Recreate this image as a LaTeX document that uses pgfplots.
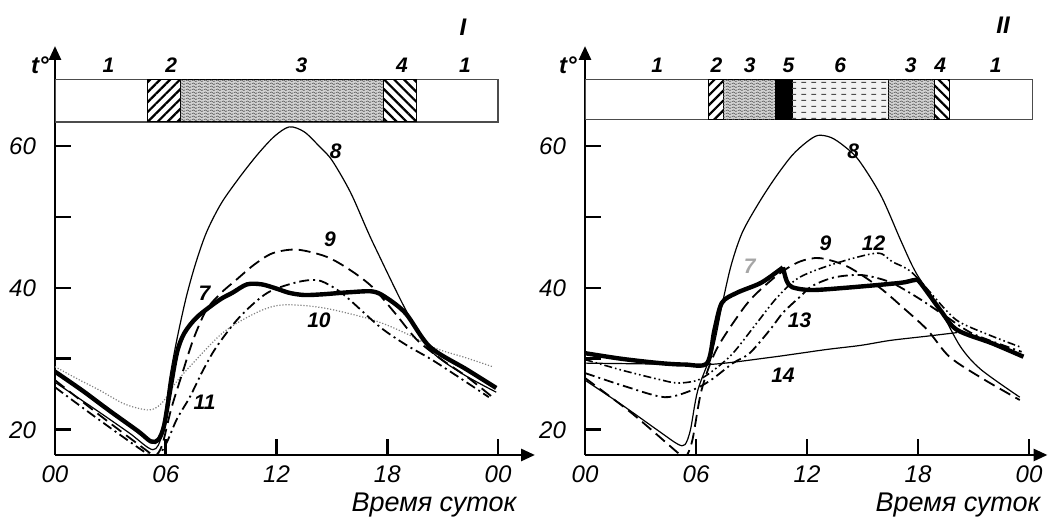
\documentclass[border=0pt]{standalone}
\usepackage{fontspec}
\setmainfont{Liberation Sans}
\usepackage{pgfplots}
\pgfplotsset{compat=1.18}
\usetikzlibrary{arrows.meta,patterns,patterns.meta}

\tikzdeclarepattern{
  name=waves, type=uncolored,
  bounding box={(0,0) and (3pt,1.6pt)},
  tile size={(3pt,1.6pt)},
  code={\draw[line width=0.35pt] (0,0.8pt) sin (0.75pt,1.3pt) cos (1.5pt,0.8pt) sin (2.25pt,0.3pt) cos (3pt,0.8pt);}
}
\tikzdeclarepattern{
  name=dashrows, type=uncolored,
  bounding box={(0,0) and (5pt,3pt)},
  tile size={(5pt,3pt)},
  code={\draw[line width=0.6pt] (0.8pt,1.5pt) -- (3.4pt,1.5pt);}
}

\tikzset{lab/.style={font=\fontsize{10.5}{12}\selectfont\bfseries\itshape}}

\pgfplotsset{
  panel/.style={
    scale only axis, height=204.5pt,
    axis lines=left,
    axis line style={line width=1.4pt, -{Triangle[width=6pt,length=7pt]}},
    ymin=16.45, ymax=74.1,
    xtick={0,6,12,18,24}, xticklabels={00,06,12,18,00},
    ytick={20,30,40,50,60}, yticklabels={20,,40,,60},
    tick align=inside, major tick length=8pt,
    tick style={line width=1.4pt, black},
    ticklabel style={font=\fontsize{12}{14}\selectfont\itshape},
    xticklabel style={yshift=-2pt},
    yticklabel style={xshift=-6pt},
  },
  c7/.style={line width=2.2pt, black, smooth},
  c8/.style={line width=0.6pt, black, smooth},
  c9/.style={line width=0.9pt, black, smooth, dash pattern=on 6pt off 3pt},
  c10/.style={line width=0.6pt, gray, smooth, dash pattern=on 0.6pt off 0.9pt},
  cdd/.style={line width=0.9pt, black, smooth, dash pattern=on 5pt off 2pt on 1pt off 2pt},
  cddd/.style={line width=0.8pt, black, smooth, dash pattern=on 4pt off 1.5pt on 0.8pt off 1.5pt on 0.8pt off 1.5pt},
  hatchA/.style={draw=black, line width=0.5pt, pattern={Lines[angle=45,distance=3.5pt,line width=1.1pt]}},
  hatchB/.style={draw=black, line width=0.5pt, pattern={Lines[angle=-45,distance=3.5pt,line width=1.1pt]}},
  wavefill/.style={draw=black, line width=0.5pt, fill=gray!35},
  wavepat/.style={draw=none, pattern=waves, pattern color=gray!70!black},
}

% one segment of the schedule band: from, to, bottom, top, style
\newcommand{\seg}[5]{\addplot[#5] coordinates {(#1,#3) (#2,#3) (#2,#4) (#1,#4) (#1,#3)};}

\begin{document}
\begin{tikzpicture}
\path[use as bounding box] (0,0) rectangle (524.5pt,258.5pt);

% ---------- panel I ----------
\begin{axis}[panel, at={(27.5pt,31pt)}, anchor=south west,
  width=240pt, xmin=0, xmax=26]
\seg{0}{24}{63.4}{69.4}{draw=gray!60!black, line width=0.7pt, fill=white}
\seg{5.0}{6.8}{63.4}{69.4}{hatchA}
\seg{6.8}{17.8}{63.4}{69.4}{wavefill}
\seg{6.8}{17.8}{63.4}{69.4}{wavepat}
\seg{17.8}{19.6}{63.4}{69.4}{hatchB}

\addplot[c10] coordinates {(0,28.9) (1.2,27.2) (2.4,25.6) (3.8,23.6) (5.1,22.8) (5.8,23.8) (6.5,26.5) (7.3,28.9) (9.1,33.7) (10.9,36.5) (12.3,37.6) (14.5,37.2) (17.2,35.5) (19,33.6) (20.6,31.5) (22.2,30.2) (23.7,28.9)};
\addplot[cdd] coordinates {(0,26.0) (2.5,21.2) (5.0,16.6) (5.5,16.0) (6.05,18.2) (6.6,21.5) (7.3,24.6) (8.0,28.3) (8.75,31.7) (10.0,35.9) (11.5,39.3) (13.1,40.8) (14.2,41.1) (15.0,40.2) (15.8,38.7) (17.6,34.5) (19,32) (20.4,29.9) (22,27.2) (23.5,24.6)};
\addplot[c9] coordinates {(0,27.0) (2.5,21.9) (5.0,17.0) (5.4,16.3) (5.8,17.8) (6.3,23) (6.9,28.0) (7.5,32.8) (8.2,36.9) (9.0,39.3) (9.8,41.1) (10.8,43.3) (11.8,44.9) (13.1,45.4) (14.7,44.4) (16,42.5) (17.2,40.1) (18.4,36.5) (19.6,32.7) (21,29.8) (22.3,27.5) (23.7,24.6)};
\addplot[c8] coordinates {(0,26.7) (2,23.2) (4,19.6) (5.3,17.2) (5.8,19.5) (6.2,27.0) (6.6,32.7) (7.1,38.6) (7.6,43.3) (8.2,47.8) (9.0,51.9) (10.0,55.6) (11.0,58.9) (11.9,61.4) (12.7,62.7) (13.5,62.0) (14.3,60.0) (15.0,58.0) (16.0,53.5) (16.9,48.2) (17.4,45.4) (19.0,36.9) (20.3,31.3) (22,28) (23.9,25.3)};
\addplot[c7] coordinates {(0,28.2) (1.5,25.5) (3,22.6) (4.5,19.8) (5.2,18.35) (5.6,18.6) (5.9,20.5) (6.2,25) (6.6,30.8) (7.0,33.6) (7.7,35.9) (8.9,38.3) (9.6,39.3) (10.4,40.5) (11.2,40.5) (12.0,39.9) (12.7,39.3) (13.5,39.0) (14.5,39.1) (16,39.4) (17.2,39.5) (17.9,38.7) (19,36.4) (20.3,31.7) (22.3,28.5) (23.9,25.9)};

\node[lab] at (2.9,71.4) {1};
\node[lab] at (6.3,71.4) {2};
\node[lab] at (13.35,71.4) {3};
\node[lab] at (18.8,71.4) {4};
\node[lab] at (22.2,71.4) {1};
\node[lab] at (15.2,59.2) {8};
\node[lab] at (14.9,46.8) {9};
\node[lab] at (8.1,39.3) {7};
\node[lab] at (14.3,35.5) {10};
\node[lab] at (8.1,23.9) {11};
\end{axis}

% ---------- panel II ----------
\begin{axis}[panel, at={(292.5pt,31pt)}, anchor=south west,
  width=231.25pt, xmin=0, xmax=25]
\seg{0}{24.2}{63.7}{69.4}{draw=gray!60!black, line width=0.7pt, fill=white}
\seg{6.7}{7.46}{63.7}{69.4}{hatchA}
\seg{7.46}{10.27}{63.7}{69.4}{wavefill}
\seg{7.46}{10.27}{63.7}{69.4}{wavepat}
\seg{10.27}{11.2}{63.7}{69.4}{draw=black, line width=0.5pt, fill=black}
\seg{11.2}{16.4}{63.7}{69.4}{draw=black, line width=0.5pt, fill=gray!10}
\seg{11.2}{16.4}{63.7}{69.4}{draw=none, pattern=dashrows, pattern color=gray!60!black}
\seg{16.4}{18.9}{63.7}{69.4}{wavefill}
\seg{16.4}{18.9}{63.7}{69.4}{wavepat}
\seg{18.9}{19.7}{63.7}{69.4}{hatchB}

\addplot[c8] coordinates {(0,29.4) (3,29.3) (6.65,29.2) (10,30.2) (13,31.3) (14.9,31.9) (16.5,32.6) (18.5,33.2) (20.1,33.7)};
\addplot[cddd] coordinates {(0,29.9) (2,28.4) (4,27.1) (5,26.6) (6.1,27.0) (7.0,28.5) (8.0,30.8) (9.3,35.1) (10.4,38.7) (11.6,41.5) (13.6,43.5) (15.8,44.9) (16.6,43.7) (17.7,42.1) (19.5,36.9) (20.3,35.1) (22,33.2) (23.5,31.7)};
\addplot[cdd] coordinates {(0,28.0) (2.2,26.1) (4.3,24.6) (5.8,25.6) (6.8,27.0) (8.0,29.4) (8.9,30.8) (10.0,34.1) (10.7,36.5) (11.6,38.7) (12.3,40.3) (13.5,41.5) (15,41.8) (16.5,40.8) (18,38.6) (19.5,36) (21,33.5) (23.6,31.0)};
\addplot[c9] coordinates {(0,27.3) (2.5,22.4) (5.0,16.8) (5.4,16.0) (5.8,18.5) (6.3,25.6) (7.1,31.3) (8.5,36.9) (9.3,39.3) (10.5,42.0) (11.6,43.7) (12.7,44.2) (14.2,43.0) (15.9,40.1) (17.2,37.2) (18.5,34.1) (19.7,30.3) (21.5,27.2) (23.5,24.2)};
\addplot[c8] coordinates {(0,27.0) (2,23.5) (4,19.8) (5.0,18.0) (5.4,17.9) (5.7,20.0) (6.1,25.6) (6.9,31.3) (7.4,37.5) (7.9,43.2) (8.5,47.8) (9.4,52.0) (10.3,55.6) (11.2,58.7) (12.0,60.6) (12.6,61.5) (13.3,61.2) (14.0,60.0) (14.8,58.0) (16.0,53.0) (17.1,46.5) (17.9,42.1) (19.2,36.9) (20.3,31.7) (21.4,28.5) (23.5,24.6)};
\addplot[c7] coordinates {(0,30.8) (2,30.0) (4.05,29.4) (5.4,29.2) (6.6,29.4) (7.0,34.1) (7.4,37.9) (8.2,39.3) (9.5,40.7) (10.5,42.5) (10.7,42.9)};
\addplot[c7] coordinates {(10.7,42.9) (10.9,41.0) (11.2,40.1) (12.2,39.7) (14,40.0) (17,40.7) (17.8,41.1) (18.1,40.8) (19.2,36.9) (20.1,34.1) (22,32.2) (23.7,30.3)};

\node[lab] at (3.9,71.4) {1};
\node[lab] at (7.1,71.4) {2};
\node[lab] at (8.9,71.4) {3};
\node[lab] at (11.0,71.4) {5};
\node[lab] at (13.8,71.4) {6};
\node[lab] at (17.6,71.4) {3};
\node[lab] at (19.2,71.4) {4};
\node[lab] at (22.2,71.4) {1};
\node[lab] at (14.5,59.2) {8};
\node[lab] at (13.0,46.3) {9};
\node[lab] at (15.6,46.3) {12};
\node[lab, gray!70] at (8.9,43.0) {7};
\node[lab] at (11.6,35.5) {13};
\node[lab] at (10.7,27.7) {14};
\end{axis}

\node[font=\fontsize{12}{14}\selectfont\bfseries\itshape] at (20pt,226pt) {t°};
\node[font=\fontsize{12}{14}\selectfont\bfseries\itshape] at (284pt,226pt) {t°};
\node[font=\fontsize{12}{14}\selectfont\bfseries\itshape] at (231.5pt,245pt) {I};
\node[font=\fontsize{12}{14}\selectfont\bfseries\itshape] at (501.5pt,246pt) {II};
\node[font=\fontsize{13.5}{15}\selectfont\itshape] at (217pt,6pt) {Время суток};
\node[font=\fontsize{13.5}{15}\selectfont\itshape] at (479pt,6pt) {Время суток};
\end{tikzpicture}
\end{document}
